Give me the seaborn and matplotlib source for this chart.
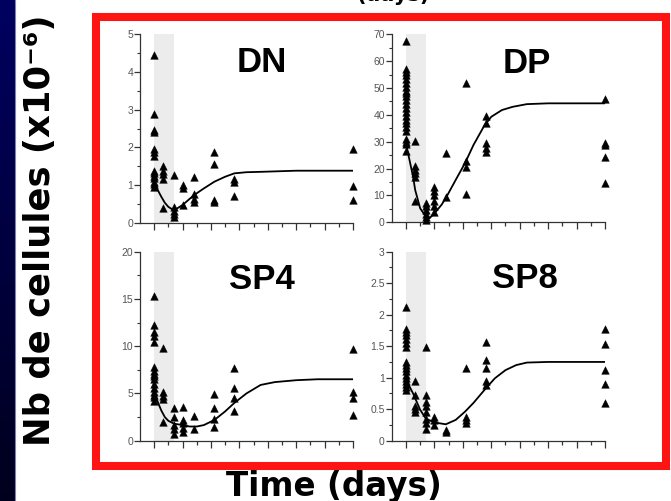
import numpy as np
import pandas as pd
import matplotlib
matplotlib.use("Agg")
import matplotlib.pyplot as plt
import seaborn as sns
from matplotlib.patches import Rectangle
from matplotlib.ticker import MultipleLocator, NullFormatter

# sampling days (x positions of the point clusters)
days = [0, 1.3, 2.8, 4, 5.6, 8.4, 11.2, 28]

# cell counts per day, one list per day
dn_vals = [[4.45, 2.88, 2.46, 2.4, 1.96, 1.88, 1.78, 1.37, 1.31, 1.25, 1.18, 1.09, 1.02, 0.96],
           [1.51, 1.38, 1.29, 1.15, 0.4],
           [1.27, 0.42, 0.3, 0.22, 0.15],
           [1.0, 0.93, 0.48],
           [1.22, 0.75, 0.63, 0.55],
           [1.88, 1.55, 0.6, 0.56],
           [1.17, 1.07, 0.7],
           [1.96, 0.98, 0.6]]
dp_vals = [[67.5, 57, 56, 55, 53.5, 52, 50.5, 49, 48, 47, 45.5, 44, 42.5, 41, 39.5, 38, 37, 35.5, 34, 31, 30, 29, 26.5],
           [30.3, 21, 19.5, 18.2, 17, 8.1],
           [7, 6, 4.5, 3, 2, 1],
           [13, 11.5, 10, 8, 6, 4],
           [25.7, 9.6],
           [51.7, 23, 20.7, 10.5],
           [39.6, 36.8, 29.4, 27.5, 26.3],
           [45.8, 29.7, 28.8, 24.4, 14.8]]
sp4_vals = [[15.3, 12.2, 11.5, 11.1, 10.4, 7.8, 7.4, 7.1, 6.8, 6.5, 6.0, 5.6, 5.2, 4.8, 4.6, 4.2],
            [9.8, 5.2, 4.7, 4.4, 2.0],
            [3.5, 2.5, 1.7, 1.2, 0.7],
            [3.6, 2.2, 1.9, 1.3, 0.9],
            [2.6, 1.2],
            [4.9, 3.5, 2.3, 1.4],
            [7.7, 5.6, 4.5, 3.1],
            [9.7, 5.1, 4.5, 2.7]]
sp8_vals = [[2.12, 1.77, 1.72, 1.67, 1.61, 1.55, 1.49, 1.25, 1.2, 1.15, 1.1, 1.05, 1.0, 0.95, 0.9, 0.85, 0.8],
            [0.95, 0.72, 0.55, 0.5, 0.46],
            [1.49, 0.72, 0.62, 0.55, 0.45, 0.35, 0.28, 0.19],
            [0.38, 0.33, 0.25],
            [0.17, 0.13],
            [1.16, 0.37, 0.33, 0.28],
            [1.57, 1.28, 1.15, 0.94, 0.88],
            [1.77, 1.54, 1.12, 0.9, 0.6]]

# fitted curves
dn_fit_x = [0, 0.5, 1, 1.5, 2, 2.5, 3, 4, 5.6, 7, 8.5, 10, 11.3, 13, 15, 20, 28]
dn_fit_y = [1.1, 0.87, 0.69, 0.53, 0.42, 0.36, 0.35, 0.47, 0.73, 0.91, 1.09, 1.22, 1.31, 1.34, 1.35, 1.38, 1.38]
dp_fit_x = [0, 1, 1.3, 2, 2.8, 3.3, 4, 5, 5.6, 7, 8.3, 9.5, 11, 12, 13.5, 15, 17, 20, 28]
dp_fit_y = [29.4, 17, 12, 5.2, 2.1, 1.5, 3.3, 6.5, 9, 15.8, 22, 28.8, 35.9, 39.3, 41.8, 43, 44, 44.3, 44.3]
sp4_fit_x = [0, 0.5, 1, 1.5, 2, 2.8, 4, 5, 6, 7, 8.5, 10, 11.3, 13, 15, 17, 20, 23, 28]
sp4_fit_y = [4.8, 4.1, 3.2, 2.5, 2.1, 1.8, 1.65, 1.5, 1.5, 1.65, 2.2, 3.1, 4.0, 5.0, 5.9, 6.2, 6.4, 6.5, 6.5]
sp8_fit_x = [0, 0.5, 1, 1.5, 2, 2.8, 4, 5.6, 7, 8.3, 9.5, 11, 12.5, 14, 15.5, 17, 20, 28]
sp8_fit_y = [0.95, 0.86, 0.75, 0.62, 0.49, 0.35, 0.29, 0.26, 0.33, 0.46, 0.6, 0.8, 0.99, 1.12, 1.2, 1.24, 1.25, 1.25]

names = ["DN", "DP", "SP4", "SP8"]
all_vals = [dn_vals, dp_vals, sp4_vals, sp8_vals]
fits = [(dn_fit_x, dn_fit_y), (dp_fit_x, dp_fit_y), (sp4_fit_x, sp4_fit_y), (sp8_fit_x, sp8_fit_y)]
ymax = [5, 70, 20, 3]
ymaj = [1, 10, 5, 0.5]

sns.set_style("ticks")
plt.rcParams['font.family'] = ['Liberation Sans', 'DejaVu Sans']
plt.rcParams['text.color'] = 'black'

fig = plt.figure(figsize=(6.71, 5.01), dpi=100)
fig.patch.set_facecolor('white')

# dark strip on the left edge
strip = fig.add_axes([0, 0, 15 / 671, 1])
grad = np.linspace(0, 1, 100).reshape(-1, 1)
strip.imshow(grad, aspect='auto', cmap=matplotlib.colors.LinearSegmentedColormap.from_list(
    'nv', ['#000060', '#00001e']), extent=[0, 1, 0, 1], origin='upper')
strip.axis('off')
fig.add_artist(plt.Line2D([15 / 671, 15 / 671], [0, 1], color='#8080b0', lw=0.8))

# red frame
fig.add_artist(Rectangle((96 / 671, (501 - 466) / 501), 570 / 671, 449 / 501,
                         fill=False, edgecolor='#ff1414', lw=5.8, transform=fig.transFigure))

positions = [[0.2086, 0.5555, 0.3174, 0.3760],
             [0.5838, 0.5563, 0.3179, 0.3752],
             [0.2086, 0.1204, 0.3174, 0.3772],
             [0.5838, 0.1204, 0.3179, 0.3772]]
title_pos = [(261.7, 71.7), (526.7, 72.7), (261.7, 289.3), (525, 288.3)]

for i, name in enumerate(names):
    ax = fig.add_axes(positions[i])
    rows = []
    for d, vs in zip(days, all_vals[i]):
        for v in vs:
            rows.append({'day': d, 'cells': v})
    df = pd.DataFrame(rows)
    ax.axvspan(0, 2.8, color='#ececec', lw=0, zorder=0)
    sns.lineplot(x=fits[i][0], y=fits[i][1], ax=ax, color='black', lw=1.3, zorder=2)
    sns.scatterplot(data=df, x='day', y='cells', ax=ax, marker='^', color='black',
                    s=30, edgecolor='black', linewidth=0.3, zorder=3, clip_on=False)
    ax.set_xlim(-2, 28)
    ax.set_ylim(0, ymax[i])
    ax.xaxis.set_major_formatter(NullFormatter())
    ax.yaxis.set_major_locator(MultipleLocator(ymaj[i]))
    ax.yaxis.set_minor_locator(MultipleLocator(ymaj[i] / 2))
    ax.set_xticks([t for t in range(0, 29, 4)])
    ax.set_xticks([t for t in range(2, 28, 4)], minor=True)
    ax.tick_params(axis='x', which='major', length=5, width=0.9, color='#333333')
    ax.tick_params(axis='x', which='minor', length=3, width=0.9, color='#333333')
    ax.tick_params(axis='y', which='major', length=4, width=0.9, color='#333333',
                   labelsize=7.5, labelcolor='#555555', pad=1)
    ax.tick_params(axis='y', which='minor', length=2, width=0.8, color='#333333')
    ax.set_yticklabels([('%g' % t) for t in ax.get_yticks()])
    for s in ['top', 'right']:
        ax.spines[s].set_visible(False)
    for s in ['left', 'bottom']:
        ax.spines[s].set_linewidth(0.9)
        ax.spines[s].set_color('#333333')
    ax.set_facecolor('none')
    ax.set(xlabel=None, ylabel=None)
    ax.grid(False)
    tx, ty = title_pos[i]
    fig.text(tx / 671, (501 - ty) / 501, name, ha='center', va='baseline', color='black',
             fontsize=25, fontweight='bold', family='Liberation Sans')

fig.text(40 / 671, (501 - 230) / 501, 'Nb de cellules (x10\u207b\u2076)', rotation=90,
         ha='center', va='center', fontsize=25.5, fontweight='bold', family='DejaVu Sans',
         color='black')
fig.text(334 / 671, 5 / 501, 'Time (days)', ha='center', va='baseline', color='black',
         fontsize=23.5, fontweight='bold', family='DejaVu Sans')
fig.text(393 / 671, (501 - 1) / 501, '(days)', ha='center', va='baseline', color='black',
         fontsize=15, fontweight='bold', family='DejaVu Sans')

plt.savefig('out.png', dpi=100)
